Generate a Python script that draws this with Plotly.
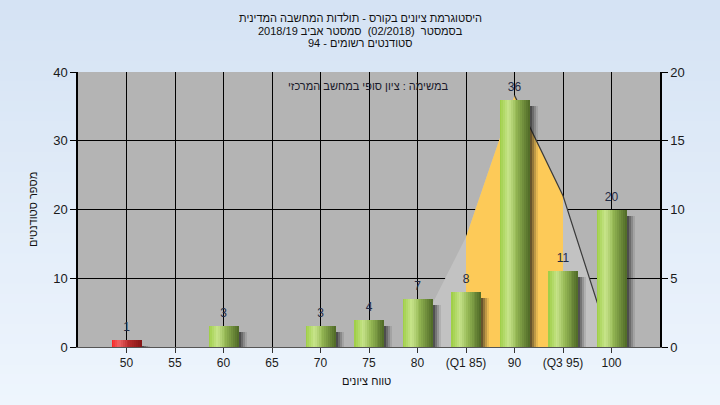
import plotly.graph_objects as go

# ---------------- data ----------------
grades = [50, 55, 60, 65, 70, 75, 80, 85, 90, 95, 100]
counts = [1, 0, 3, 0, 3, 4, 7, 8, 36, 11, 20]
tick_text = ["50", "55", "60", "65", "70", "75", "80", "(Q1 85)", "90", "(Q3 95)", "100"]
curve_x = [80, 85, 90, 95, 100]
curve_y = [1, 8, 18.3, 11, 0]          # in right-axis units
q1, q3 = 85, 95
fail_below = 55

title_lines = [
    "היסטוגרמת ציונים בקורס - תולדות המחשבה המדינית",
    "בסמסטר  (02/2018)  סמסטר אביב 2018/19",
    "סטודנטים רשומים - 94",
]
note_text = "במשימה : ציון סופי במחשב המרכזי"
x_title = "טווח ציונים"
y_title = "מספר סטודנטים"

# ---------------- layout constants ----------------
W, H = 720, 405
ML, MR, MT, MB = 78, 60, 72, 58
PW = W - ML - MR
PH = H - MT - MB
XR = [45, 105]
YR = [0, 40]
Y2R = [0, 20]
px_per_x = PW / (XR[1] - XR[0])
scale2 = (YR[1] - YR[0]) / (Y2R[1] - Y2R[0])
FONT = "Liberation Sans, DejaVu Sans, Arial, sans-serif"
bar_w = 30 / px_per_x


def lerp(c1, c2, t):
    return tuple(int(round(a + (b - a) * t)) for a, b in zip(c1, c2))


def grad(stops, t):
    for (t0, c0), (t1, c1) in zip(stops, stops[1:]):
        if t0 <= t <= t1:
            return lerp(c0, c1, (t - t0) / (t1 - t0) if t1 > t0 else 0)
    return stops[-1][1]


green_stops = [(0.0, (155, 205, 65)), (0.3, (200, 228, 140)), (0.55, (150, 185, 85)), (1.0, (78, 104, 38))]
red_stops = [(0.0, (250, 30, 30)), (0.25, (238, 100, 100)), (0.55, (185, 45, 45)), (1.0, (130, 20, 20))]

fig = go.Figure()

# shadows
drop = 6 / PH * (YR[1] - YR[0])
for dx, a in [(2, 0.35), (4, 0.25), (6, 0.18), (8, 0.1)]:
    fig.add_trace(go.Bar(x=grades, y=[max(c - drop, 0) if c > 0 else 0 for c in counts],
                         width=bar_w, offset=-bar_w / 2 + dx / px_per_x,
                         marker=dict(color=f"rgba(20,20,20,{a})", line=dict(width=0)),
                         hoverinfo="skip", showlegend=False))

# gradient bars
N = 16
for i in range(N):
    t = (i + 0.5) / N
    cg = "rgb(%d,%d,%d)" % grad(green_stops, t)
    cr = "rgb(%d,%d,%d)" % grad(red_stops, t)
    cols = [cr if g < fail_below else cg for g in grades]
    fig.add_trace(go.Bar(x=grades, y=counts, width=bar_w / N * 1.08,
                         offset=-bar_w / 2 + i * bar_w / N,
                         marker=dict(color=cols, line=dict(width=0)),
                         hoverinfo="skip", showlegend=False))

# value labels
lx = [g for g, c in zip(grades, counts) if c > 0]
ly = [c for c in counts if c > 0]
fig.add_trace(go.Scatter(x=lx, y=ly, mode="markers+text", text=[str(c) for c in ly],
                         textposition="top center", marker=dict(size=8, opacity=0),
                         textfont=dict(family=FONT, size=12, color="#1f2a44"),
                         hoverinfo="skip", showlegend=False))

# invisible trace for the right axis
fig.add_trace(go.Scatter(x=[grades[0]], y=[0], yaxis="y2", mode="markers",
                         marker=dict(opacity=0), hoverinfo="skip", showlegend=False))

# background gradient
shapes = []
NS = 40
top_c, bot_c = (213, 227, 244), (238, 245, 253)
for k in range(NS):
    c = lerp(top_c, bot_c, k / (NS - 1))
    y1 = 1 + MT / PH - k * (H / PH) / NS
    y0 = y1 - (H / PH) / NS - 0.003
    shapes.append(dict(type="rect", xref="paper", yref="paper", x0=-ML / PW, x1=1 + MR / PW,
                       y0=y0, y1=y1, fillcolor="rgb(%d,%d,%d)" % c, line=dict(width=0), layer="below"))
shapes.append(dict(type="rect", xref="paper", yref="paper", x0=0, x1=1, y0=0, y1=1,
                   fillcolor="#b4b4b4", line=dict(width=0), layer="below"))


def path_of(xs, ys, close=True):
    p = "M %g,%g " % (xs[0], ys[0]) + " ".join("L %g,%g" % (x, y) for x, y in zip(xs[1:], ys[1:]))
    return p + (" Z" if close else "")


# distribution curve (gray + yellow between quartiles) -- between gridlines and bars
gx = [curve_x[0]] + curve_x + [curve_x[-1]]
gy = [0] + [v * scale2 for v in curve_y] + [0]
shapes.append(dict(type="path", xref="x", yref="y", path=path_of(gx, gy),
                   fillcolor="#c2c2c2", line=dict(width=0), layer="between"))
qx = [x for x in curve_x if q1 <= x <= q3]
qy = [v * scale2 for x, v in zip(curve_x, curve_y) if q1 <= x <= q3]
shapes.append(dict(type="path", xref="x", yref="y",
                   path=path_of([qx[0]] + qx + [qx[-1]], [0] + qy + [0]),
                   fillcolor="#fdca58", line=dict(width=0), layer="between"))
peak = curve_y.index(max(curve_y))
shapes.append(dict(type="path", xref="x", yref="y",
                   path=path_of(curve_x[peak:], [v * scale2 for v in curve_y[peak:]], close=False),
                   line=dict(color="#3a3a3a", width=1.2), layer="between"))


def px2x(px):
    return (px - ML) / PW


def py2y(py):
    return (H - MB - py) / PH


annotations = []
for line, py in zip(title_lines, [18, 31, 43]):
    annotations.append(dict(text=line, xref="paper", yref="paper", x=px2x(360), y=py2y(py),
                            showarrow=False, xanchor="center", yanchor="middle",
                            font=dict(family=FONT, size=11, color="#111")))
annotations.append(dict(text=note_text, xref="paper", yref="paper", x=px2x(368), y=py2y(86),
                        showarrow=False, xanchor="center", yanchor="middle",
                        font=dict(family=FONT, size=11, color="#1a1a2a")))
annotations.append(dict(text=x_title, xref="paper", yref="paper", x=px2x(366), y=py2y(381),
                        showarrow=False, xanchor="center", yanchor="middle",
                        font=dict(family=FONT, size=11, color="#111")))
annotations.append(dict(text=y_title, xref="paper", yref="paper", x=px2x(33), y=py2y(210),
                        showarrow=False, xanchor="center", yanchor="middle", textangle=-90,
                        font=dict(family=FONT, size=11, color="#111")))

fig.update_layout(
    width=W, height=H,
    margin=dict(l=ML, r=MR, t=MT, b=MB, pad=0),
    paper_bgcolor="rgba(0,0,0,0)", plot_bgcolor="rgba(0,0,0,0)",
    barmode="overlay", bargap=0,
    showlegend=False,
    shapes=shapes, annotations=annotations,
    xaxis=dict(range=XR, tickvals=grades, ticktext=tick_text, showgrid=True,
               gridcolor="#000", gridwidth=1.2, showline=True, linecolor="#555", linewidth=1,
               ticks="outside", ticklen=5, tickcolor="#333", zeroline=False,
               tickfont=dict(family=FONT, size=12, color="#1a1a1a"), fixedrange=True),
    yaxis=dict(range=YR, tickvals=[0, 10, 20, 30, 40], showgrid=True, gridcolor="#000",
               gridwidth=1.2, showline=True, linecolor="#000", linewidth=1.5,
               ticks="outside", ticklen=6, tickcolor="#000", zeroline=False,
               tickfont=dict(family=FONT, size=13, color="#1a1a1a"), fixedrange=True),
    yaxis2=dict(range=Y2R, tickvals=[0, 5, 10, 15, 20], overlaying="y", side="right",
                showgrid=False, showline=True, linecolor="#000", linewidth=1.5,
                ticks="outside", ticklen=6, tickcolor="#000", zeroline=False,
                tickfont=dict(family=FONT, size=13, color="#1a1a1a"), fixedrange=True),
)

fig.write_html("out.html", post_script="document.body.style.margin='0';",
               config={"displayModeBar": False})
